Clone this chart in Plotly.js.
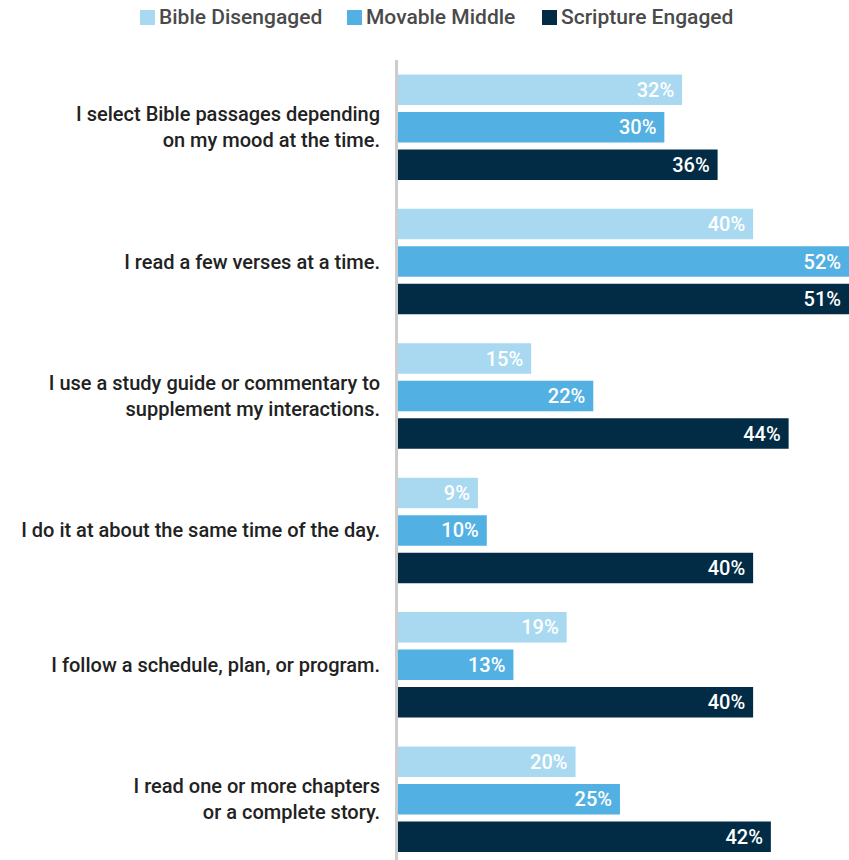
<!DOCTYPE html>
<html>
<head>
<meta charset="utf-8">
<script src="https://cdn.plot.ly/plotly-3.0.1.min.js"></script>
<style>
html,body{margin:0;padding:0;background:#fff;}
#chart{width:849px;height:860px;}
</style>
</head>
<body>
<div id="chart"></div>
<script>
const categories = [
  "I select Bible passages depending<br>on my mood at the time.",
  "I read a few verses at a time.",
  "I use a study guide or commentary to<br>supplement my interactions.",
  "I do it at about the same time of the day.",
  "I follow a schedule, plan, or program.",
  "I read one or more chapters<br>or a complete story."
];
const seriesNames = ["Bible Disengaged", "Movable Middle", "Scripture Engaged"];
const bibleDisengaged = [32, 40, 15, 9, 19, 20];
const movableMiddle = [30, 52, 22, 10, 13, 25];
const scriptureEngaged = [36, 51, 44, 40, 40, 42];
const colors = ["#a8d9f1", "#52b0e3", "#022b45"];

const FONT = "Roboto, 'Liberation Sans', sans-serif";
const X_MAX = 50.8; // visible axis extent (reference crops the longest bars)
const values = [bibleDisengaged, movableMiddle, scriptureEngaged];

const W = 849, H = 860;
const M = {l: 398, r: 0, t: 60, b: 0};
const plotW = W - M.l - M.r, plotH = H - M.t - M.b;
const px2x = px => (px - M.l) / plotW;
const py2y = py => (H - M.b - py) / plotH;

const traces = values.map((vals, i) => ({
  type: 'bar',
  orientation: 'h',
  name: seriesNames[i],
  x: vals.map(v => Math.min(v, X_MAX)),
  y: categories,
  marker: {color: colors[i]},
  text: vals.map(v => v + '%\u00a0'),
  textposition: 'inside',
  insidetextanchor: 'end',
  constraintext: 'none',
  textfont: {color: '#ffffff', size: 20, family: FONT, weight: 500},
  hoverinfo: 'skip'
}));

// manual legend (pixel positions of the legend keys)
const legendKeyLeft = [140, 347, 542];
const shapes = seriesNames.map((n, i) => ({
  type: 'rect', xref: 'paper', yref: 'paper',
  x0: px2x(legendKeyLeft[i]), x1: px2x(legendKeyLeft[i] + 15),
  y0: py2y(25), y1: py2y(10),
  fillcolor: colors[i], line: {width: 0}
}));
const annotations = seriesNames.map((n, i) => ({
  text: n, xref: 'paper', yref: 'paper',
  x: px2x(legendKeyLeft[i] + 17), y: py2y(17.5),
  xanchor: 'left', yanchor: 'middle', showarrow: false,
  font: {family: FONT, size: 21, color: '#4a4a4a', weight: 500}
}));

const layout = {
  width: W,
  height: H,
  margin: {l: M.l, r: M.r, t: M.t, b: M.b, pad: 0},
  paper_bgcolor: '#ffffff',
  plot_bgcolor: '#ffffff',
  barmode: 'group',
  bargap: 0.163,
  bargroupgap: 0.187,
  showlegend: false,
  shapes: shapes,
  annotations: annotations,
  xaxis: {
    range: [0, X_MAX],
    visible: false,
    showgrid: false,
    zeroline: false,
    fixedrange: true
  },
  yaxis: {
    type: 'category',
    range: [5.452, -0.5],
    showgrid: false,
    zeroline: false,
    showline: true,
    linecolor: '#cccccc',
    linewidth: 3,
    ticks: 'outside',
    ticklen: 11,
    tickcolor: 'rgba(0,0,0,0)',
    tickfont: {family: FONT, size: 20, color: '#222222', weight: 500},
    fixedrange: true
  }
};

Plotly.newPlot('chart', traces, layout, {displayModeBar: false, staticPlot: true});
</script>
</body>
</html>
